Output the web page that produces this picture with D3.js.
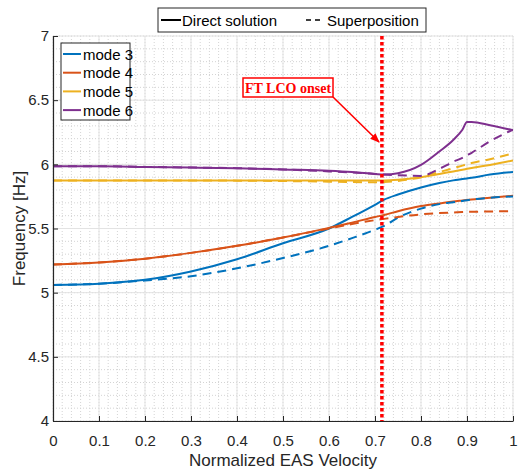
<!DOCTYPE html>
<html>
<head>
<meta charset="utf-8">
<script src="https://cdn.jsdelivr.net/npm/d3@7"></script>
<style>
  body { margin: 0; background: #fff; }
  svg { display: block; font-family: "Liberation Sans", Arial, sans-serif; }
</style>
</head>
<body>
<svg id="chart" width="518" height="476"></svg>
<script>
// Normalized EAS velocity grid shared by all curves
const velocity = [0, 0.1, 0.2, 0.3, 0.4, 0.5, 0.6, 0.65, 0.7, 0.72, 0.75, 0.8, 0.84, 0.87, 0.89, 0.9, 0.91, 0.95, 1.0];

// Frequencies [Hz] — direct solution
const mode3Direct = [5.06, 5.07, 5.10, 5.165, 5.26, 5.385, 5.50, 5.59, 5.685, 5.725, 5.765, 5.82, 5.855, 5.875, 5.885, 5.89, 5.895, 5.92, 5.94];
const mode4Direct = [5.22, 5.235, 5.265, 5.31, 5.365, 5.43, 5.505, 5.545, 5.59, 5.605, 5.635, 5.675, 5.695, 5.71, 5.718, 5.722, 5.726, 5.74, 5.755];
const mode5Direct = [5.875, 5.875, 5.875, 5.875, 5.875, 5.875, 5.875, 5.875, 5.875, 5.875, 5.88, 5.90, 5.925, 5.945, 5.958, 5.965, 5.972, 5.995, 6.03];
const mode6Direct = [5.985, 5.985, 5.98, 5.975, 5.97, 5.96, 5.95, 5.94, 5.925, 5.92, 5.93, 5.995, 6.10, 6.19, 6.27, 6.33, 6.33, 6.305, 6.265];

// Frequencies [Hz] — superposition
const mode3Super = [5.06, 5.07, 5.095, 5.128, 5.19, 5.27, 5.365, 5.425, 5.49, 5.52, 5.585, 5.655, 5.69, 5.705, 5.715, 5.72, 5.725, 5.74, 5.75];
const mode4Super = [5.22, 5.235, 5.265, 5.31, 5.365, 5.43, 5.50, 5.535, 5.565, 5.575, 5.59, 5.61, 5.62, 5.625, 5.628, 5.63, 5.63, 5.633, 5.635];
const mode5Super = [5.875, 5.875, 5.875, 5.875, 5.873, 5.87, 5.865, 5.862, 5.86, 5.862, 5.87, 5.90, 5.94, 5.97, 5.99, 6.0, 6.01, 6.04, 6.085];
const mode6Super = [5.985, 5.985, 5.98, 5.975, 5.97, 5.96, 5.945, 5.937, 5.925, 5.92, 5.915, 5.91, 5.965, 6.02, 6.05, 6.07, 6.09, 6.18, 6.27];

const modeNames = ["mode 3", "mode 4", "mode 5", "mode 6"];
const modeColors = ["#0072BD", "#D95319", "#EDB120", "#7E2F8E"];
const directSeries = [mode3Direct, mode4Direct, mode5Direct, mode6Direct];
const superSeries = [mode3Super, mode4Super, mode5Super, mode6Super];

const xTicks = [0, 0.1, 0.2, 0.3, 0.4, 0.5, 0.6, 0.7, 0.8, 0.9, 1];
const yTicks = [4, 4.5, 5, 5.5, 6, 6.5, 7];
const onsetVelocity = 0.715;

const svg = d3.select("#chart");
const plotLeft = 53, plotRight = 513, plotTop = 36, plotBottom = 421;

const x = d3.scaleLinear().domain([0, 1]).range([plotLeft, plotRight]);
const y = d3.scaleLinear().domain([4, 7]).range([plotBottom, plotTop]);

// grid: minor dotted, major solid
const grid = svg.append("g");
d3.range(0, 1.0001, 0.02).forEach(v => {
  grid.append("line").attr("x1", x(v)).attr("x2", x(v)).attr("y1", plotTop).attr("y2", plotBottom)
    .attr("stroke", "#d4d4d4").attr("stroke-width", 1).attr("stroke-dasharray", "1,2");
});
d3.range(4, 7.0001, 0.1).forEach(v => {
  grid.append("line").attr("x1", plotLeft).attr("x2", plotRight).attr("y1", y(v)).attr("y2", y(v))
    .attr("stroke", "#d4d4d4").attr("stroke-width", 1).attr("stroke-dasharray", "1,2");
});
xTicks.forEach(v => {
  grid.append("line").attr("x1", x(v)).attr("x2", x(v)).attr("y1", plotTop).attr("y2", plotBottom)
    .attr("stroke", "#e3e3e3").attr("stroke-width", 1);
});
yTicks.forEach(v => {
  grid.append("line").attr("x1", plotLeft).attr("x2", plotRight).attr("y1", y(v)).attr("y2", y(v))
    .attr("stroke", "#e3e3e3").attr("stroke-width", 1);
});

// curves
svg.append("clipPath").attr("id", "plotClip").append("rect")
  .attr("x", plotLeft).attr("y", plotTop).attr("width", plotRight - plotLeft).attr("height", plotBottom - plotTop);
const curves = svg.append("g").attr("clip-path", "url(#plotClip)");
const line = d3.line().x((d, i) => x(velocity[i])).y(d => y(d)).curve(d3.curveMonotoneX);

directSeries.forEach((s, i) => {
  curves.append("path").attr("d", line(s)).attr("fill", "none")
    .attr("stroke", modeColors[i]).attr("stroke-width", 2);
});
superSeries.forEach((s, i) => {
  curves.append("path").attr("d", line(s)).attr("fill", "none")
    .attr("stroke", modeColors[i]).attr("stroke-width", 2).attr("stroke-dasharray", "9,6");
});

// onset marker
svg.append("line").attr("x1", x(onsetVelocity)).attr("x2", x(onsetVelocity))
  .attr("y1", plotTop).attr("y2", plotBottom)
  .attr("stroke", "#ff0000").attr("stroke-width", 3.5).attr("stroke-dasharray", "3.5,2.5");

// axes
const axisColor = "#262626";
const xAxis = svg.append("g").attr("transform", `translate(0,${plotBottom})`)
  .call(d3.axisBottom(x).tickValues(xTicks).tickFormat(d3.format("")).tickSizeInner(-5).tickSizeOuter(0).tickPadding(14));
const yAxis = svg.append("g").attr("transform", `translate(${plotLeft},0)`)
  .call(d3.axisLeft(y).tickValues(yTicks).tickFormat(d3.format("")).tickSizeInner(-5).tickSizeOuter(0).tickPadding(4));
[xAxis, yAxis].forEach(a => {
  a.select(".domain").attr("stroke", axisColor).attr("stroke-width", 1.2);
  a.selectAll(".tick line").attr("stroke", axisColor);
  a.selectAll(".tick text").attr("fill", axisColor).attr("font-size", 15)
    .attr("font-family", "'Liberation Sans', Arial, sans-serif");
});

svg.append("text").attr("x", (plotLeft + plotRight) / 2).attr("y", 466).attr("text-anchor", "middle")
  .attr("font-size", 17).attr("fill", axisColor).text("Normalized EAS Velocity");
svg.append("text").attr("transform", `translate(25,${(plotTop + plotBottom) / 2}) rotate(-90)`)
  .attr("text-anchor", "middle").attr("font-size", 17).attr("fill", axisColor).text("Frequency [Hz]");

// annotation with arrow
svg.append("defs").append("marker").attr("id", "arrowHead")
  .attr("viewBox", "0 0 10 10").attr("refX", 9).attr("refY", 5)
  .attr("markerWidth", 6).attr("markerHeight", 6).attr("markerUnits", "strokeWidth")
  .attr("orient", "auto")
  .append("path").attr("d", "M0,1 L10,5 L0,9 Z").attr("fill", "#ff0000");
svg.append("line").attr("x1", 333).attr("y1", 97).attr("x2", 379).attr("y2", 142)
  .attr("stroke", "#ff0000").attr("stroke-width", 1.6).attr("marker-end", "url(#arrowHead)");
svg.append("rect").attr("x", 243).attr("y", 78).attr("width", 90).attr("height", 19)
  .attr("fill", "#fff").attr("stroke", "#ff0000").attr("stroke-width", 1.5);
svg.append("text").attr("x", 288).attr("y", 92.5).attr("text-anchor", "middle")
  .attr("font-family", "'Liberation Serif', 'Times New Roman', serif").attr("font-weight", "bold")
  .attr("font-size", 14).attr("fill", "#ff0000").text("FT LCO onset");

// top legend: line styles
const topLegend = svg.append("g");
topLegend.append("rect").attr("x", 158).attr("y", 8).attr("width", 268).attr("height", 24)
  .attr("fill", "#fff").attr("stroke", axisColor).attr("stroke-width", 1);
topLegend.append("line").attr("x1", 161).attr("x2", 181).attr("y1", 20).attr("y2", 20)
  .attr("stroke", "#000").attr("stroke-width", 2);
topLegend.append("text").attr("x", 182).attr("y", 25.5).attr("font-size", 15).attr("fill", "#000").text("Direct solution");
topLegend.append("line").attr("x1", 306).attr("x2", 323).attr("y1", 20).attr("y2", 20)
  .attr("stroke", "#000").attr("stroke-width", 1.5).attr("stroke-dasharray", "5,4");
topLegend.append("text").attr("x", 327).attr("y", 25.5).attr("font-size", 15).attr("fill", "#000").text("Superposition");

// mode legend
const modeLegend = svg.append("g");
modeLegend.append("rect").attr("x", 61).attr("y", 43).attr("width", 69).attr("height", 77)
  .attr("fill", "#fff").attr("stroke", axisColor).attr("stroke-width", 1);
modeNames.forEach((name, i) => {
  const cy = 54 + i * 18.7;
  modeLegend.append("line").attr("x1", 63).attr("x2", 81).attr("y1", cy).attr("y2", cy)
    .attr("stroke", modeColors[i]).attr("stroke-width", 2);
  modeLegend.append("text").attr("x", 83).attr("y", cy + 5.5).attr("font-size", 15).attr("fill", "#000").text(name);
});
</script>
</body>
</html>
